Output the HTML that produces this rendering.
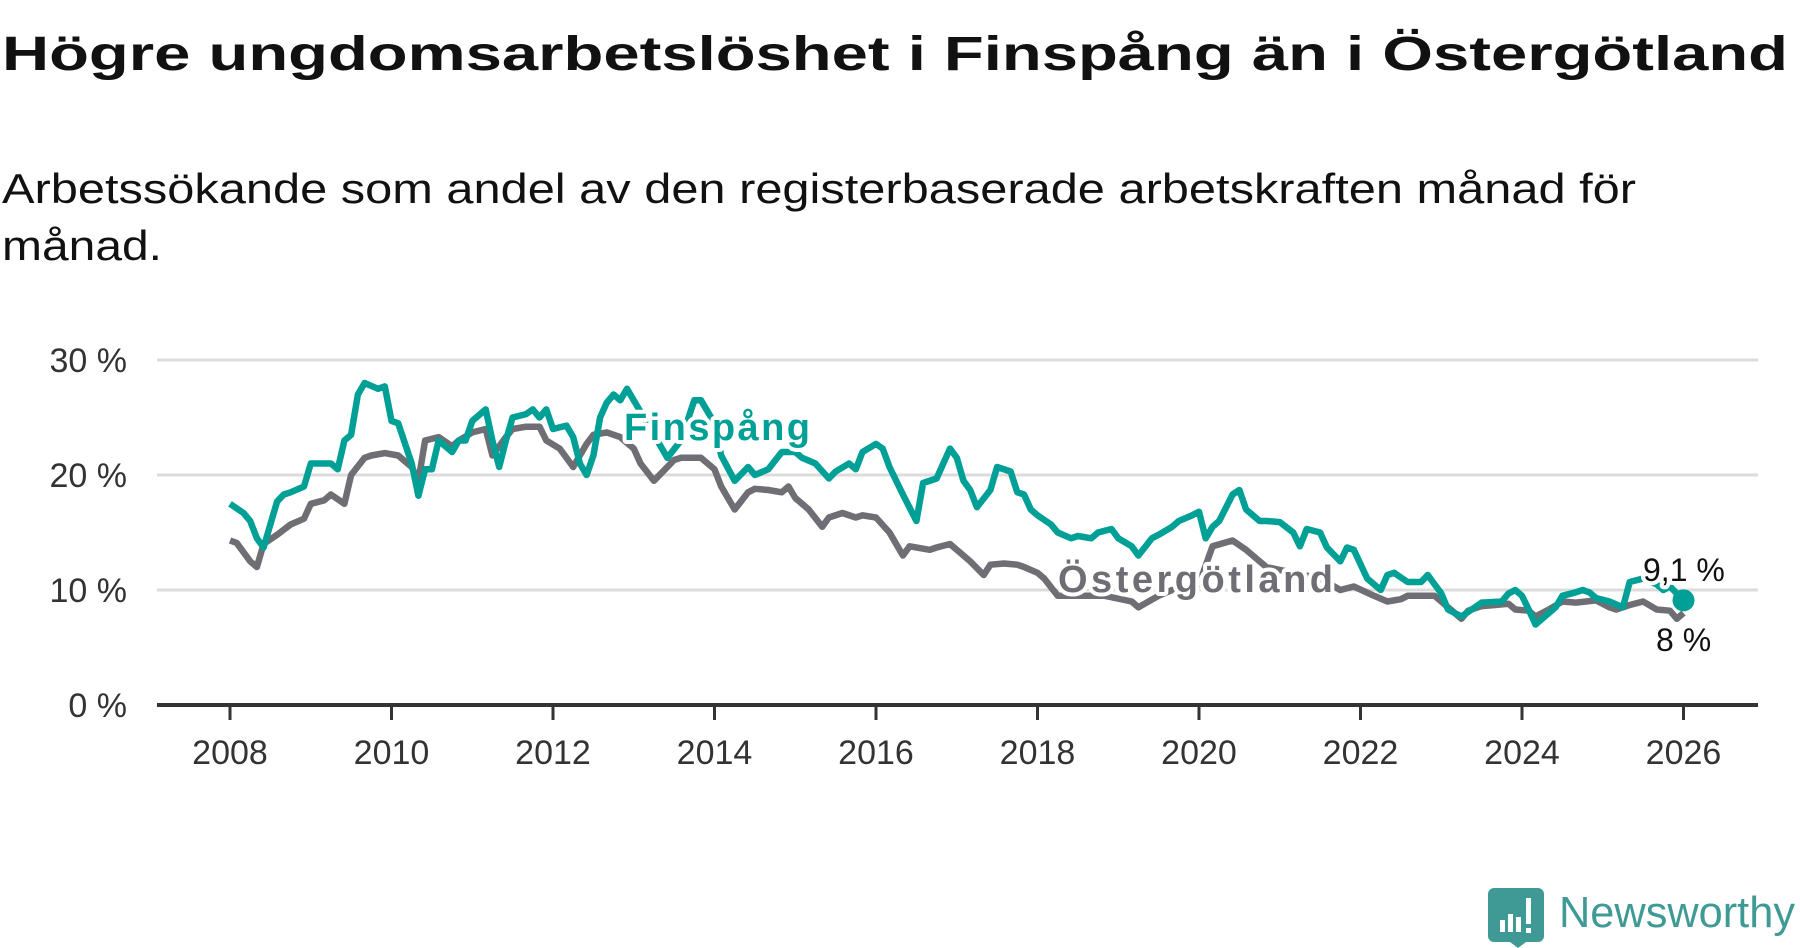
<!DOCTYPE html>
<html><head><meta charset="utf-8"><style>
html,body{margin:0;padding:0;background:#fff;}
svg{display:block;font-family:"Liberation Sans",sans-serif;}
</style></head><body>
<svg id="chart" width="1800" height="948" viewBox="0 0 1800 948" xmlns="http://www.w3.org/2000/svg">
<text x="2" y="70" font-size="48" font-weight="bold" fill="#111" textLength="1786" lengthAdjust="spacingAndGlyphs">Högre ungdomsarbetslöshet i Finspång än i Östergötland</text>
<text x="2" y="203" font-size="42" fill="#111" textLength="1634" lengthAdjust="spacingAndGlyphs">Arbetssökande som andel av den registerbaserade arbetskraften månad för</text>
<text x="2" y="260" font-size="42" fill="#111" textLength="160" lengthAdjust="spacingAndGlyphs">månad.</text>
<g id="grid"></g>
<g id="xaxis"></g>
<g id="series"></g>
<g id="labels"></g>
<g>
<path d="M1494 890 h44 a6 6 0 0 1 6 6 v42 a6 6 0 0 1 -6 6 h-12 l-8 6 l-8 -6 h-16 a6 6 0 0 1 -6 -6 v-42 a6 6 0 0 1 6 -6z" fill="#3f9a95" transform="translate(0,-2)"/>
<rect x="1500" y="920" width="5" height="12" fill="#fff"/>
<rect x="1508" y="914" width="5" height="18" fill="#fff"/>
<rect x="1516" y="917" width="5" height="15" fill="#fff"/>
<rect x="1526" y="898" width="5" height="26" fill="#fff"/>
<rect x="1526" y="928" width="5" height="5" fill="#fff"/>
<text x="1559" y="927" font-size="44" fill="#3f9a95" textLength="236" lengthAdjust="spacingAndGlyphs">Newsworthy</text>
</g>
</svg>
<script>
const yTicks = [0, 10, 20, 30];
const yTickLabels = ["0 %", "10 %", "20 %", "30 %"];
const xTicks = [2008, 2010, 2012, 2014, 2016, 2018, 2020, 2022, 2024, 2026];
// month index since Jan 2008
const finMonths = [0,2,3,4,5,7,8,9,11,12,15,16,17,18,19,20,22,23,24,25,27,28,29,30,31,33,34,35,36,38,39,40,41,42,44,45,46,47,48,50,51,52,53,54,55,56,57,58,59,61,63,65,67,69,70,72,73,75,77,78,80,82,84,85,87,89,90,92,93,94,96,97,98,100,102,103,105,107,108,109,110,111,113,114,116,117,118,119,120,122,123,125,126,128,129,131,132,134,135,137,138,140,141,143,144,145,146,147,149,150,151,153,154,156,158,159,160,162,163,165,166,167,169,171,172,173,175,177,178,180,181,183,185,186,189,190,191,192,193,194,195,197,198,200,201,202,203,205,207,208,210,212,213,214,216];
const finValues = [17.5,16.7,16,14.5,13.7,17.7,18.3,18.5,19,21,21,20.5,23,23.5,27,28,27.5,27.7,24.7,24.5,21,18.2,20.5,20.5,23,22,23,23,24.7,25.7,23,20.7,23,25,25.3,25.7,25,25.7,24,24.3,23.3,21,20,21.7,25,26.3,27,26.5,27.5,25.5,23.5,21.5,23,26.5,26.5,24.5,21.7,19.5,20.7,20,20.5,22,22,21.5,21,19.7,20.3,21,20.5,22,22.7,22.3,20.7,18.3,16,19.3,19.7,22.3,21.5,19.5,18.7,17.2,18.7,20.7,20.3,18.5,18.3,17,16.5,15.7,15,14.5,14.7,14.5,15,15.3,14.5,13.8,13,14.5,14.8,15.5,16,16.5,16.8,14.5,15.5,16,18.3,18.7,17,16,16,15.9,15,13.8,15.3,15,13.7,12.5,13.7,13.5,11,10,11.3,11.5,10.7,10.7,11.3,9.7,8.3,7.7,8.5,8.9,9,9.7,10,9.5,8.3,7,7.5,8.5,9.5,9.8,10,9.8,9.3,9,8.5,10.7,11,10.5,10,10.3,9.1];
const ostMonths = [0,1,3,4,5,7,9,11,12,14,15,17,18,20,21,23,25,27,28,29,31,33,34,36,38,39,41,42,44,46,47,49,51,53,54,56,58,60,61,63,66,67,69,70,72,73,75,77,78,80,82,83,84,86,88,89,91,93,94,96,98,100,101,104,105,107,108,110,112,113,115,117,118,120,121,123,126,130,134,135,138,140,144,146,149,151,154,158,162,165,167,170,172,174,175,177,179,180,182,183,184,186,188,190,191,193,194,196,198,200,203,205,206,208,210,212,214,215,216];
const ostValues = [14.3,14.1,12.5,12,14,14.8,15.7,16.2,17.5,17.8,18.3,17.5,20,21.5,21.7,21.9,21.7,20.7,19.5,23,23.3,22.5,23,23.7,24,21.7,23.3,24,24.2,24.2,23,22.3,20.7,22.7,23.5,23.7,23.3,22.3,21,19.5,21.3,21.5,21.5,21.5,20.5,19,17,18.5,18.8,18.7,18.5,19,18,17,15.5,16.3,16.7,16.3,16.5,16.3,15,13,13.8,13.5,13.7,14,13.5,12.5,11.3,12.2,12.3,12.2,12,11.5,11,9.5,9.5,9.5,9,8.5,9.5,10,10.5,13.8,14.3,13.5,12,11.5,11,10,10.3,9.5,9,9.2,9.5,9.5,9.5,9,8,7.5,8.2,8.6,8.7,8.8,8.3,8.2,7.7,8.3,9,8.9,9.1,8.5,8.3,8.7,9,8.3,8.2,7.5,8];
const finLast = "9,1 %";
const ostLast = "8 %";

const NS = "http://www.w3.org/2000/svg";
const X0 = 157, X1 = 1758;
function xYear(yr){ return 230 + (yr - 2008) * 80.75; }
function xMonth(m){ return xYear(2008 + m / 12); }
function yScale(v){ return 705 - v * 11.5; }
function mk(tag, attrs, parent){ const e = document.createElementNS(NS, tag); for (const k in attrs) e.setAttribute(k, attrs[k]); parent.appendChild(e); return e; }

const grid = document.getElementById('grid');
yTicks.forEach((t, i) => {
  if (t !== 0) {
    const l = mk('line', {x1: X0, x2: X1, y1: yScale(t), y2: yScale(t), stroke: '#dcdcdc', 'stroke-width': 3}, grid);
    
    
  }
  const tx = mk('text', {x: 127, y: yScale(t) + 12, 'font-size': 34, fill: '#333', 'text-anchor': 'end'}, grid);
  tx.textContent = yTickLabels[i];
  
  
});
const xa = document.getElementById('xaxis');
const axl = mk('line', {x1: X0, x2: X1, y1: yScale(0), y2: yScale(0), stroke: '#333', 'stroke-width': 4}, xa);


xTicks.forEach(t => {
  const tk = mk('line', {x1: xYear(t), x2: xYear(t), y1: yScale(0), y2: yScale(0) + 15, stroke: '#333', 'stroke-width': 3}, xa);
  
  
  const tx = mk('text', {x: xYear(t), y: 764, 'font-size': 34, fill: '#333', 'text-anchor': 'middle'}, xa);
  tx.textContent = t;
  
  
});
const ser = document.getElementById('series');
function path(ms, vs){ return ms.map((m, i) => (i ? 'L' : 'M') + xMonth(m).toFixed(1) + ' ' + yScale(vs[i]).toFixed(1)).join(' '); }
const po = mk('path', {d: path(ostMonths, ostValues), fill: 'none', stroke: '#6f6e74', 'stroke-width': 6.5, 'stroke-linejoin': 'round'}, ser);


const pf = mk('path', {d: path(finMonths, finValues), fill: 'none', stroke: '#00a096', 'stroke-width': 6.5, 'stroke-linejoin': 'round'}, ser);


const lf = finMonths.length - 1;
const dot = mk('circle', {cx: xMonth(finMonths[lf]), cy: yScale(finValues[lf]), r: 11, fill: '#00a096'}, ser);



const lab = document.getElementById('labels');
function halo(txt, x, y, size, weight, color, name){
  const t = mk('text', {x: x, y: y, 'font-size': size, 'font-weight': weight, fill: color, stroke: '#fff', 'stroke-width': 8, 'stroke-linejoin': 'round', 'paint-order': 'stroke'}, lab);
  t.textContent = txt;
  
  
  return t;
}
halo('Finspång', 624, 440, 38, 'bold', '#00a096', 'finspang-label').setAttribute('textLength', '186');
halo('Östergötland', 1058, 592, 38, 'bold', '#6f6e74', 'ostergotland-label').setAttribute('textLength', '275');
halo(finLast, 1643, 581, 32, 'normal', '#111', 'finspang-last-value');
halo(ostLast, 1656, 651, 32, 'normal', '#111', 'ostergotland-last-value');
</script>
</body></html>
